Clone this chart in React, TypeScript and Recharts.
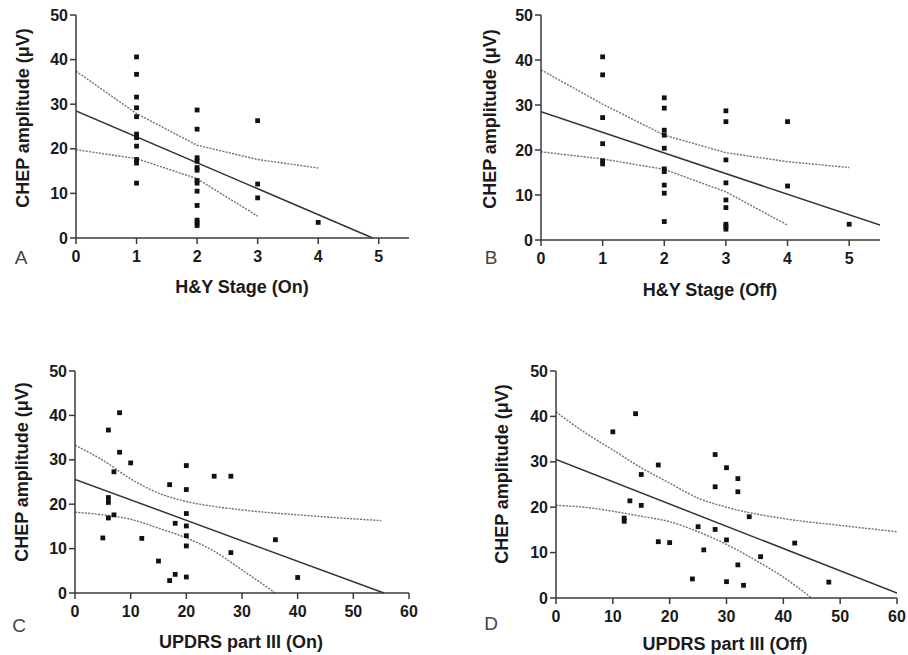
import { ComposedChart, Scatter, Line, XAxis, YAxis } from "recharts";

// [x, y] pairs
const hyOnPoints = [
  [1, 40.6], [1, 36.7], [1, 31.6], [1, 29.2], [1, 27.2], [1, 23.3], [1, 22.5], [1, 20.6], [1, 17.6], [1, 16.8], [1, 12.3],
  [2, 28.7], [2, 24.4], [2, 18.0], [2, 17.2], [2, 15.8], [2, 15.2], [2, 12.9], [2, 12.3], [2, 10.5], [2, 7.3], [2, 4.0], [2, 3.4], [2, 2.8],
  [3, 26.3], [3, 12.1], [3, 9.0],
  [4, 3.5],
];
const hyOnFit = [[0, 28.5], [4.9, 0]];
const hyOnUpper = [[0, 37.4], [1, 27.9], [2, 20.8], [3, 17.6], [4, 15.7]];
const hyOnLower = [[0, 19.8], [1, 17.8], [2, 13.3], [3, 4.9]];

const hyOffPoints = [
  [1, 40.7], [1, 36.7], [1, 27.2], [1, 21.4], [1, 17.6], [1, 16.9],
  [2, 31.6], [2, 29.3], [2, 24.4], [2, 23.3], [2, 20.4], [2, 15.8], [2, 15.2], [2, 12.2], [2, 10.4], [2, 4.1],
  [3, 28.7], [3, 26.3], [3, 17.8], [3, 12.7], [3, 8.9], [3, 7.2], [3, 3.5], [3, 3.0], [3, 2.4],
  [4, 26.3], [4, 12.0],
  [5, 3.5],
];
const hyOffFit = [[0, 28.5], [5.5, 3.3]];
const hyOffUpper = [[0, 37.8], [1, 30.2], [2, 23.3], [3, 19.4], [4, 17.4], [5, 16.1]];
const hyOffLower = [[0, 19.6], [1, 18.0], [2, 15.7], [3, 10.7], [4, 3.3]];

const updrsOnPoints = [
  [5, 12.4], [6, 36.7], [6, 21.5], [6, 20.4], [6, 16.9], [7, 27.3], [7, 17.6], [8, 40.6], [8, 31.7],
  [10, 29.3], [12, 12.3], [15, 7.2], [17, 24.4], [17, 2.8], [18, 15.7], [18, 4.2],
  [20, 28.7], [20, 23.3], [20, 17.9], [20, 15.1], [20, 12.9], [20, 10.6], [20, 3.6],
  [25, 26.3], [28, 26.3], [28, 9.1], [36, 12.0], [40, 3.5],
];
const updrsOnFit = [[0, 25.6], [55.5, 0]];
const updrsOnUpper = [[0, 33.3], [5, 29.9], [10, 25.7], [15, 22.5], [20, 20.6], [25, 19.5], [30, 18.7], [40, 17.6], [55, 16.3]];
const updrsOnLower = [[0, 18.2], [5, 17.6], [10, 16.6], [15, 14.6], [20, 12.4], [25, 9.4], [30, 5.2], [36, 0]];

const updrsOffPoints = [
  [10, 36.6], [12, 17.6], [12, 16.9], [13, 21.4], [14, 40.6], [15, 27.2], [15, 20.4],
  [18, 29.3], [18, 12.4], [20, 12.2], [24, 4.2], [25, 15.7], [26, 10.6],
  [28, 31.6], [28, 24.5], [28, 15.1], [30, 28.7], [30, 12.8], [30, 3.6],
  [32, 26.3], [32, 23.4], [32, 7.3], [33, 2.8], [34, 17.9], [36, 9.1], [42, 12.1], [48, 3.5],
];
const updrsOffFit = [[0, 30.5], [60, 1.1]];
const updrsOffUpper = [[0, 41.0], [5, 36.5], [10, 32.6], [15, 28.7], [20, 25.3], [25, 22.0], [30, 20.0], [40, 17.5], [50, 16.0], [60, 14.6]];
const updrsOffLower = [[0, 20.4], [5, 20.0], [10, 19.1], [15, 18.0], [20, 16.8], [25, 14.6], [30, 11.8], [35, 8.4], [40, 4.6], [45, 0]];

const yTicks = [0, 10, 20, 30, 40, 50];
const stageTicks = [0, 1, 2, 3, 4, 5];
const updrsTicks = [0, 10, 20, 30, 40, 50, 60];

const FONT = "'Liberation Sans', Arial, sans-serif";
const toXY = (arr: number[][]) => arr.map(([x, y]) => ({ x, y }));

const Square = (props: any) => {
  const { cx, cy } = props;
  if (cx == null || cy == null) return null;
  return <rect x={cx - 2.4} y={cy - 2.4} width={4.8} height={4.8} fill="#111" />;
};

const tickStyle = { fontSize: 16, fontWeight: 700, fill: "#1a1a1a", fontFamily: FONT };

function Panel(props: any) {
  const { left, top, width, height, margin, points, fit, upper, lower, xMax, xTicks, curve } = props;
  return (
    <div style={{ position: "absolute", left, top }}>
      <ComposedChart width={width} height={height} margin={margin}>
        <XAxis
          type="number"
          dataKey="x"
          domain={[0, xMax]}
          ticks={xTicks}
          allowDataOverflow
          height={30}
          tickSize={6}
          tickMargin={7}
          tick={tickStyle}
          stroke="#3a3a3a"
          strokeWidth={1.5}
        />
        <YAxis
          type="number"
          dataKey="y"
          domain={[0, 50]}
          ticks={yTicks}
          width={40}
          tickSize={6}
          tickMargin={2}
          tick={tickStyle}
          stroke="#3a3a3a"
          strokeWidth={1.5}
        />
        <Line data={toXY(upper)} dataKey="y" type={curve} stroke="#6f6f6f" strokeWidth={1.4} strokeDasharray="2 1.3" dot={false} activeDot={false} isAnimationActive={false} />
        <Line data={toXY(lower)} dataKey="y" type={curve} stroke="#6f6f6f" strokeWidth={1.4} strokeDasharray="2 1.3" dot={false} activeDot={false} isAnimationActive={false} />
        <Line data={toXY(fit)} dataKey="y" type="linear" stroke="#333" strokeWidth={1.5} dot={false} activeDot={false} isAnimationActive={false} />
        <Scatter data={toXY(points)} dataKey="y" shape={<Square />} isAnimationActive={false} />
      </ComposedChart>
    </div>
  );
}

function Txt({ x, y, children, rotate, size = 18, bold = true, color = "#1a1a1a" }: any) {
  return (
    <div
      style={{
        position: "absolute",
        left: x,
        top: y,
        transform: `translate(-50%, -50%)${rotate ? " rotate(-90deg)" : ""}`,
        whiteSpace: "nowrap",
        fontFamily: FONT,
        fontSize: size,
        fontWeight: bold ? 700 : 400,
        color,
        lineHeight: 1,
      }}
    >
      {children}
    </div>
  );
}

export default function App() {
  return (
    <div style={{ position: "absolute", left: 0, top: 0, width: 908, height: 655, background: "#fff", overflow: "hidden" }}>
      <Panel left={0} top={0} width={454} height={320} margin={{ top: 15, right: 45, bottom: 52, left: 36 }}
        points={hyOnPoints} fit={hyOnFit} upper={hyOnUpper} lower={hyOnLower} xMax={5.5} xTicks={stageTicks} curve="linear" />
      <Panel left={454} top={0} width={454} height={320} margin={{ top: 15, right: 28, bottom: 50, left: 47 }}
        points={hyOffPoints} fit={hyOffFit} upper={hyOffUpper} lower={hyOffLower} xMax={5.5} xTicks={stageTicks} curve="linear" />
      <Panel left={0} top={320} width={454} height={335} margin={{ top: 51, right: 45, bottom: 32, left: 35 }}
        points={updrsOnPoints} fit={updrsOnFit} upper={updrsOnUpper} lower={updrsOnLower} xMax={60} xTicks={updrsTicks} curve="monotone" />
      <Panel left={454} top={320} width={454} height={335} margin={{ top: 51, right: 11, bottom: 27, left: 62 }}
        points={updrsOffPoints} fit={updrsOffFit} upper={updrsOffUpper} lower={updrsOffLower} xMax={60} xTicks={updrsTicks} curve="monotone" />

      <Txt x={23} y={118} rotate>CHEP amplitude (μV)</Txt>
      <Txt x={490} y={119} rotate>CHEP amplitude (μV)</Txt>
      <Txt x={22} y={472} rotate>CHEP amplitude (μV)</Txt>
      <Txt x={502} y={474} rotate>CHEP amplitude (μV)</Txt>

      <Txt x={242} y={287}>H&amp;Y Stage (On)</Txt>
      <Txt x={710} y={290}>H&amp;Y Stage (Off)</Txt>
      <Txt x={241} y={642}>UPDRS part III (On)</Txt>
      <Txt x={725} y={644}>UPDRS part III (Off)</Txt>

      <Txt x={21} y={257} size={19} bold={false} color="#444">A</Txt>
      <Txt x={491} y={257} size={19} bold={false} color="#444">B</Txt>
      <Txt x={19} y={625} size={19} bold={false} color="#444">C</Txt>
      <Txt x={491} y={623} size={19} bold={false} color="#444">D</Txt>
    </div>
  );
}
